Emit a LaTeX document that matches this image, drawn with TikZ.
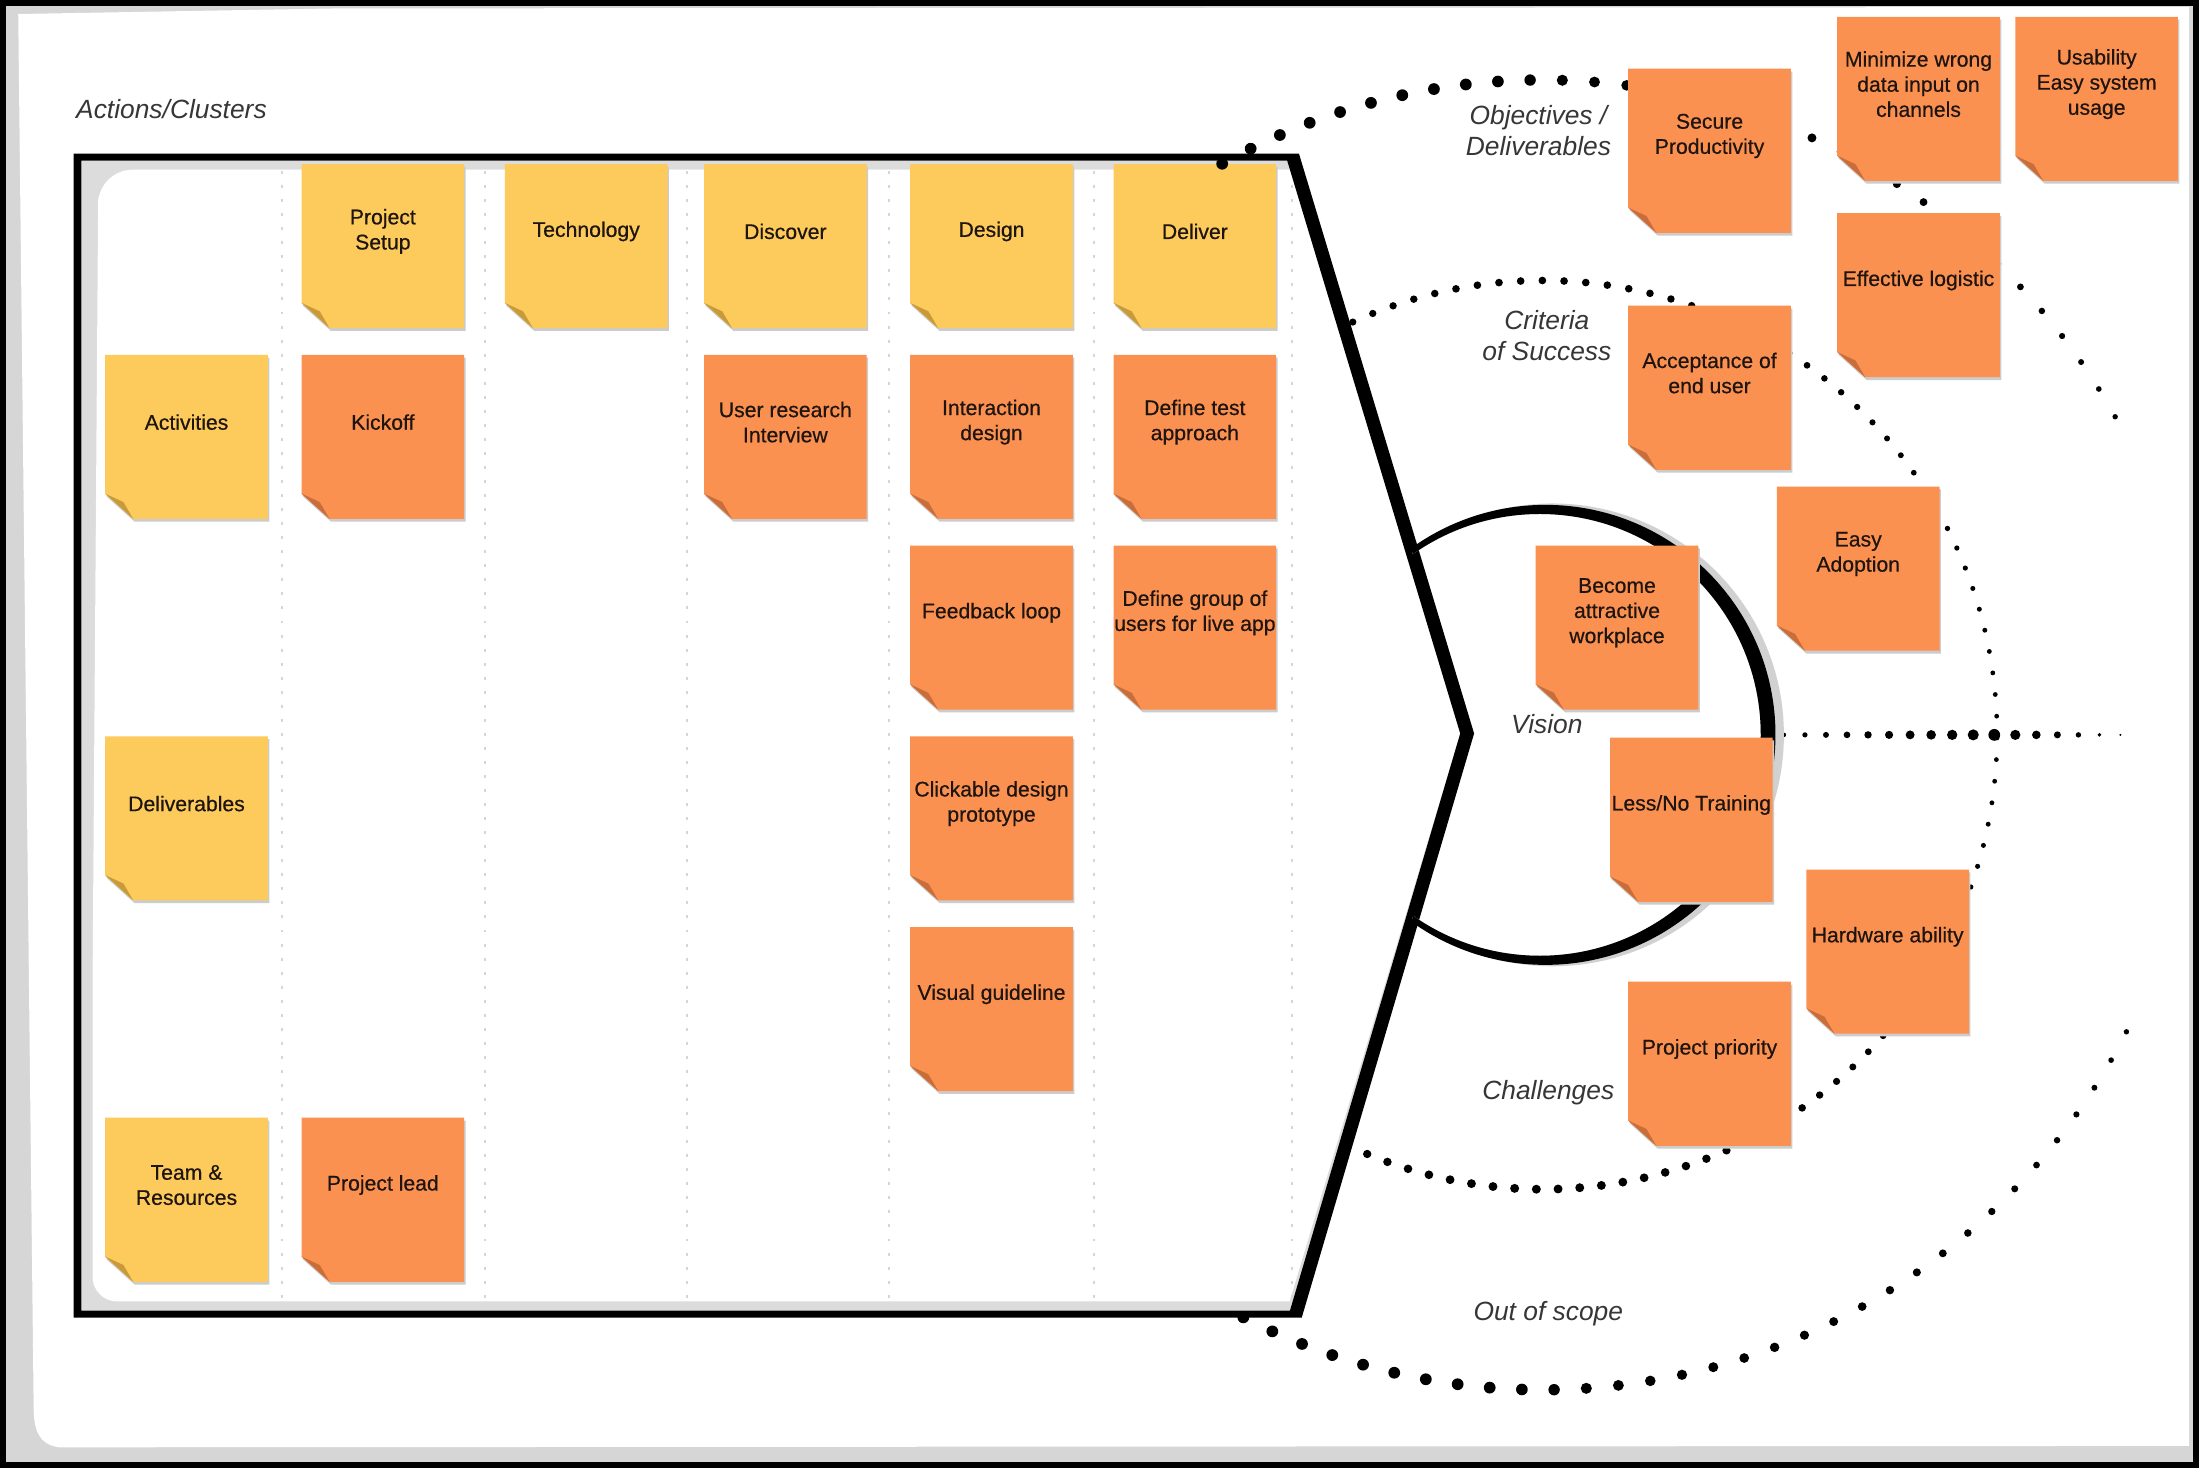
\documentclass[tikz,border=0pt]{standalone}
\usepackage{fontspec}
\setmainfont{Liberation Sans}
\newfontfamily\notefont{Liberation Sans}[FakeBold=0.5]
\definecolor{noteY}{HTML}{FCCB5C}
\definecolor{noteO}{HTML}{FB9151}
\definecolor{noteYfold}{HTML}{C99A3A}
\definecolor{noteOfold}{HTML}{C96E3A}
\definecolor{inktext}{HTML}{1E1410}
\definecolor{labeltext}{HTML}{363636}
\definecolor{framegray}{HTML}{D6D6D6}
\newcommand\stickynote[5]{%
  \fill[noteshadow] ({#2+1},{#3+2}) -- ++(116,0) -- ++(0,117) -- ++(-96,0) -- ++(-20,-18) -- cycle;
  \fill[#4] (#2,#3) -- ++(116,0) -- ++(0,117) -- ++(-96,0) -- ++(-20,-18) -- cycle;
  \fill[#4fold] ({#2},{#3+99}) -- ({#2+20},{#3+117}) -- ({#2+13},{#3+105}) -- cycle;
  \node[notetext] (#1) at ({#2+58},{#3+48}) {#5};
}
\begin{document}
\begin{tikzpicture}[x=0.02cm,y=-0.02cm,
  notetext/.style={inner sep=0pt, align=center, text=inktext, font=\notefont\fontsize{8.6}{10.2}\selectfont},
  areatext/.style={inner sep=0pt, align=center, text=labeltext, font=\fontsize{10.7}{12.5}\selectfont\itshape},
  noteshadow/.style={fill=black!20},
  colsep/.style={draw=black!16, line width=0.8pt, dash pattern=on 1.2pt off 4.5pt}]
\useasboundingbox (0,0) rectangle (1568,1047);

% page
\fill[white] (0,0) rectangle (1568,1047);
\fill[framegray] (3,3) rectangle (1565,1044);
\fill[white] (13,10) -- (240,6) -- (1561,5) -- (1561,1031) -- (42,1032) .. controls (28,1030) and (24,1020) .. (24,1004) -- cycle;
\draw[black, line width=2.4pt] (2.1,2.1) rectangle (1565.9,1044.9);

% board interior
\fill[framegray!85] (58,114.5) -- (917.8,114.5) -- (1041.2,523) -- (919.8,934.5) -- (58,934.5) -- cycle;
\fill[white] (70,140) [rounded corners=14] -- (70,121) [sharp corners] -- (920,121) -- (1041.2,523) -- (919.5,928) [rounded corners=10] -- (66,928) [sharp corners] -- (66,700) -- cycle;
\foreach \xx in {201,346,490,634,780,921} \draw[colsep] (\xx,122) -- (\xx,927);

% board outline
\fill[black, even odd rule] (52.5,109.5) -- (926.2,109.5) -- (1051.1,523) -- (928.2,939.5) -- (52.5,939.5) -- cycle
  (58,114.5) -- (917.8,114.5) -- (1041.2,523) -- (919.8,934.5) -- (58,934.5) -- cycle;

% notes in the board
\stickynote{setup}{215}{117}{noteY}{Project\\Setup}
\stickynote{technology}{360}{117}{noteY}{Technology}
\stickynote{discover}{502}{117}{noteY}{Discover}
\stickynote{design}{649}{117}{noteY}{Design}
\stickynote{deliver}{794}{117}{noteY}{Deliver}
\stickynote{activities}{75}{253}{noteY}{Activities}
\stickynote{kickoff}{215}{253}{noteO}{Kickoff}
\stickynote{research}{502}{253}{noteO}{User research\\Interview}
\stickynote{interaction}{649}{253}{noteO}{Interaction\\design}
\stickynote{testappr}{794}{253}{noteO}{Define test\\approach}
\stickynote{feedback}{649}{389}{noteO}{Feedback loop}
\stickynote{livegroup}{794}{389}{noteO}{Define group of\\users for live app}
\stickynote{deliverables}{75}{525}{noteY}{Deliverables}
\stickynote{prototype}{649}{525}{noteO}{Clickable design\\prototype}
\stickynote{guideline}{649}{661}{noteO}{Visual guideline}
\stickynote{team}{75}{797}{noteY}{Team \&\\Resources}
\stickynote{lead}{215}{797}{noteO}{Project lead}

% outer dotted ring (top and bottom)
\foreach \a in {-119.3,-116.48,...,-28.5} {
  \pgfmathsetmacro\rr{1.9+2.3*min(1,(abs(\a)-28)/67)}
  \fill ({1100+467*cos(\a)},{524+467*sin(\a)}) circle[radius=\rr];
}
\foreach \a in {117.2,114.38,...,25.5} {
  \pgfmathsetmacro\rr{1.9+2.3*min(1,(abs(\a)-26)/67)}
  \fill ({1100+467*cos(\a)},{524+467*sin(\a)}) circle[radius=\rr];
}
% middle dotted ring
\foreach \a in {-114.7,-111.96,...,114.8} {
  \pgfmathsetmacro\rr{1.7+ifthenelse(\a<0,1.05,1.5)*pow(sin(\a),2)}
  \fill ({1100+324*cos(\a)},{524+324*sin(\a)}) circle[radius=\rr];
}
% horizontal dotted line
\foreach \k in {0,...,16} {
  \pgfmathsetmacro\xx{1272+15*\k}
  \pgfmathsetmacro\rr{ifthenelse(\xx<=1422, 1.6+2.6*(\xx-1272)/150, 4.2-3.4*(\xx-1422)/90)}
  \fill (\xx,524) circle[radius=\rr];
}

% vision circle
\begin{scope}
  \clip (922,0) -- (1600,0) -- (1600,1047) -- (924,1047) -- (924,937) -- (1046,523) -- (922,112) -- cycle;
  \fill[black!18, even odd rule] (1107,524) circle[radius=165] (1098,524) circle[radius=157.5];
  \fill[black, even odd rule] (1102,524) circle[radius=164] (1098,524) circle[radius=157.5];
\end{scope}

% notes on the right
\stickynote{secure}{1161}{49}{noteO}{Secure\\Productivity}
\stickynote{minimize}{1310}{12}{noteO}{Minimize wrong\\data input on\\channels}
\stickynote{usability}{1437}{12}{noteO}{Usability\\Easy system\\usage}
\stickynote{logistic}{1310}{152}{noteO}{Effective logistic}
\stickynote{acceptance}{1161}{218}{noteO}{Acceptance of\\end user}
\stickynote{adoption}{1267}{347}{noteO}{Easy\\Adoption}
\stickynote{workplace}{1095}{389}{noteO}{Become\\attractive\\workplace}
\stickynote{training}{1148}{526}{noteO}{Less/No Training}
\stickynote{hardware}{1288}{620}{noteO}{Hardware ability}
\stickynote{priority}{1161}{700}{noteO}{Project priority}

% area labels
\node[areatext, anchor=west] (lblactions) at (54,78) {Actions/Clusters};
\node[areatext] (lblobj) at (1097,93) {Objectives /\\Deliverables};
\node[areatext] (lblcrit) at (1103,239) {Criteria\\of Success};
\node[areatext] (lblvision) at (1103,516) {Vision};
\node[areatext] (lblchal) at (1104,779) {Challenges};
\node[areatext] (lblscope) at (1104,937) {Out of scope};
\end{tikzpicture}
\end{document}
